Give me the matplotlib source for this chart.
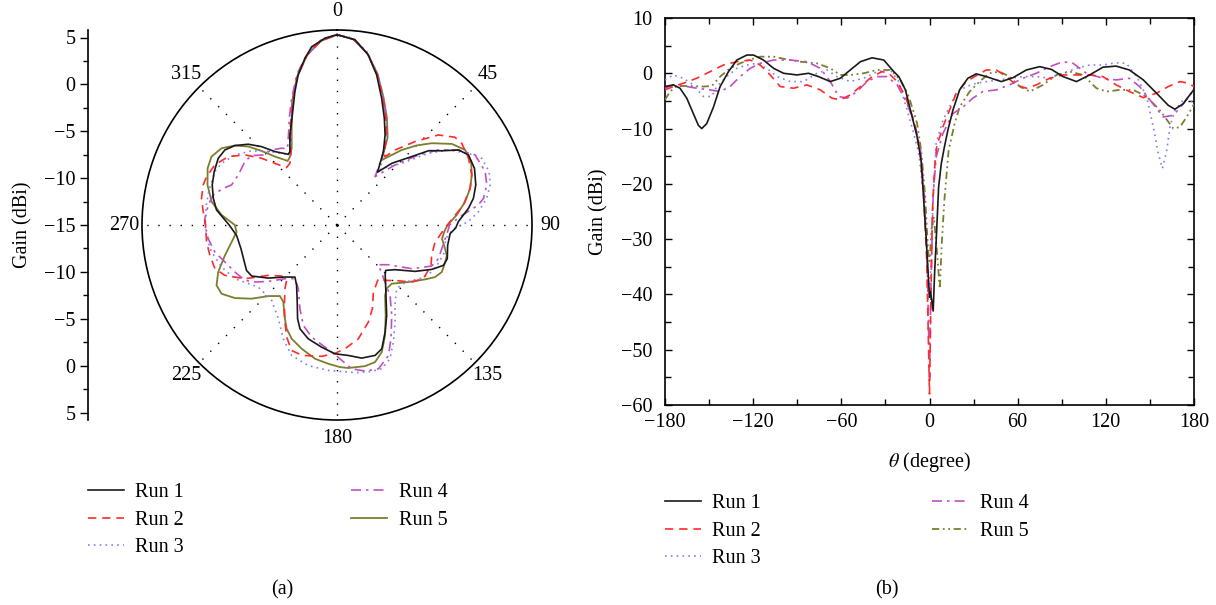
import numpy as np
import matplotlib
matplotlib.use('Agg')
import matplotlib.pyplot as plt
from matplotlib.lines import Line2D

plt.rcParams['font.family'] = ['Liberation Serif', 'DejaVu Serif']
plt.rcParams['mathtext.fontset'] = 'stix'
FS = 14.5

# ---------------- (a) polar pattern data: angle (deg, clockwise from top) and gain (dBi)
pa_th1 = [0, 5.6, 10.4, 14.8, 19.4, 23.9, 28.1, 32.3, 35.5, 37.5, 41.6, 47.5, 51, 54.7, 58.3, 61.9, 67.6, 73.9,
          78.9, 82.8, 88.4, 91.4, 94.4, 100.4, 107, 110.8, 115.1, 120.7, 127.6, 133, 136, 142.6, 151.2, 155.8,
          160.1, 163.7, 169.5, 175, 180.9, 187.2, 194.2, 199.6, 202.8, 207.3, 213.8, 218.9, 225, 232.3, 239.1,
          243.3, 250.2, 256.2, 264.1, 270, 277.1, 282.2, 287.8, 293.5, 299.3, 303.8, 307.9, 312.3, 316.1, 319.8,
          325.4, 327.3, 332.4, 336.3, 342.5, 345.5, 349.1, 351.9, 356.3]
pa_run1 = [5.3, 4.84, 3.45, 1.56, -0.66, -2.54, -4.11, -5.74, -7.2, -7.9, -6.2, -4.2, -2.4, -1.3, 0.23, 0.89, 0.86, 0.41,
           -0.17, -0.87, -2.05, -2.33, -2.9, -3.0, -2.7, -2.86, -3.84, -5.31, -7.19, -7.9, -7.6, -6.44, -4.0, -2.48,
           -0.96, -0.51, -0.56, -1.03, -1.26, -1.87, -2.48, -3.24, -4.15, -5.75, -7.25, -7.86, -7.15, -5.74, -4.4,
           -4.2, -4.4, -4.45, -4.23, -3.5, -2.05, -1.5, -1.02, -0.72, -0.47, -0.61, -1.2, -2.2, -3.4, -4.75,
           -5.84, -5.7, -4.16, -2.95, -0.07, 1.54, 3.1, 4.2, 4.97]

pa_th2 = [0, 5, 10, 15, 20, 25, 30, 33, 35.1, 38, 43.1, 48.4, 53.4, 56.8, 63.1, 69.6, 74.6, 81, 88.3, 91.6, 99.8,
          107.8, 113.2, 121.9, 127.4, 133, 138.1, 142.4, 151.5, 157.1, 162.1, 169.4, 176.3, 181, 186.5, 195, 199.9,
          204.2, 208.2, 213.2, 219.2, 222.3, 227.3, 233.8, 239.7, 245.8, 250.3, 256.6, 262.6, 270, 275.7, 281.1,
          286.7, 290.3, 296.2, 302.2, 307.3, 311.5, 314.8, 318.7, 322.7, 326.7, 332.4, 336, 340, 345, 350, 355]
pa_run2 = [5.3, 4.9, 3.6, 1.6, -0.6, -2.6, -4.4, -5.8, -6.1, -4.8, -2.81, -0.53, 0.69, 0.9, 0.73, 0.34, -0.27, -1.35,
           -2.94, -3.47, -4.38, -4.4, -4.08, -4.15, -4.97, -6.3, -7.06, -7.77, -6.86, -5.3, -4.12, -2.65, -1.77,
           -1.3, -0.9, -0.6, -0.77, -1.9, -3.25, -4.74, -6.22, -7.01, -6.97, -5.91, -3.63, -1.89, -1.17, -1.06,
           -0.97, -0.98, -0.66, -0.27, -0.1, -0.16, -0.48, -1.3, -2.66, -4.26, -5.67, -6.85, -6.72, -6.06, -4.16,
           -2.9, -1.1, 1.4, 3.4, 4.7]

pa_th3 = [0, 5, 10, 15, 20, 25, 30, 34, 38, 41, 46.4, 51.9, 56, 61.4, 65.3, 70.7, 75.3, 79.9, 84.6, 88.5, 92, 97,
          105, 112, 117, 122, 130, 136.9, 143, 149.1, 154.3, 158.4, 162.7, 166.7, 173, 183.4, 191.5, 199.2, 205.3,
          212, 220.9, 231.8, 242.2, 250, 258, 265, 270, 278, 285, 293.6, 298.1, 304.5, 311, 316.9, 322.3, 326.1,
          330, 335, 340, 345, 350, 355]
pa_run3 = [5.3, 5.0, 3.7, 1.7, -0.5, -2.5, -4.4, -6.3, -7.5, -6.8, -5.46, -2.6, -0.67, 0.97, 2.0, 2.2, 1.88, 1.23,
           0.16, -0.98, -2.6, -3.3, -3.2, -3.5, -3.8, -4.33, -5.52, -5.68, -4.7, -2.93, -1.13, 0.35, 1.05, 1.05,
           0.87, 0.54, 0.3, -0.27, -1.58, -3.2, -4.36, -4.3, -2.7, -1.9, -1.3, -1.0, -0.95, -0.9, -0.85, -0.78,
           -1.04, -1.8, -2.94, -4.27, -5.33, -6.0, -5.3, -3.3, -1.0, 1.4, 3.4, 4.8]

pa_th4 = [0, 5, 10, 15, 20, 25, 30, 34, 38.2, 44, 49.3, 53.5, 58.3, 63.1, 70.2, 75, 79.7, 82, 86, 90, 92, 102.7,
          108.4, 113.4, 120.3, 127.7, 133.8, 139.9, 143, 148.8, 154.6, 158.5, 163.9, 169.1, 174.2, 180, 185.6,
          192.7, 198.5, 203.9, 211.3, 218, 224.1, 230.6, 235.2, 239, 245.3, 251.7, 257.5, 263.9, 270, 272.9,
          278.8, 283.6, 287.9, 290.8, 296.9, 304.5, 309.1, 313.5, 318.9, 324.2, 327, 332, 336, 340, 345, 350, 355]
pa_run4 = [5.3, 4.9, 3.6, 1.6, -0.6, -2.6, -4.5, -6.5, -8.44, -6.1, -3.55, -1.54, 0.23, 1.52, 1.8, 1.54, 0.88, 0.2,
           -1.8, -3.0, -3.1, -3.54, -3.6, -3.99, -5.76, -8.07, -8.88, -7.04, -5.6, -3.73, -1.57, -0.04, 0.96, 0.87,
           0.41, -1.0, -1.91, -2.74, -3.7, -5.23, -7.05, -7.73, -7.02, -5.52, -4.34, -3.54, -3.01, -2.41, -1.66,
           -1.19, -0.9, -0.89, -1.1, -1.41, -2.25, -2.97, -3.2, -3.07, -3.26, -4.15, -4.38, -4.9, -5.3, -4.0,
           -2.5, -0.8, 1.6, 3.5, 4.8]

pa_th5 = [0, 5, 10, 15, 20, 25, 30, 34.5, 40.8, 45, 49.2, 54.8, 59.6, 64.7, 69.6, 74.6, 79.7, 85.2, 90, 93, 97.4,
          102.4, 105.5, 108.9, 114.2, 118, 121.7, 128.6, 137, 142, 145.7, 151.7, 156.5, 160.6, 164.5, 168.8, 175.5,
          178.8, 183.6, 189.3, 195.9, 201.7, 205.9, 210.2, 214.9, 218.8, 224, 229.2, 234.4, 239.2, 243.4, 248.4,
          254.8, 260.8, 266, 270, 275, 280.5, 287.2, 293.7, 298.6, 303.6, 307.9, 311.5, 314.5, 317.8, 322.4,
          325.1, 329.4, 335.6, 340, 345, 350, 355]
pa_run5 = [5.3, 4.9, 3.6, 1.7, -0.5, -2.4, -4.2, -6.6, -4.43, -3.0, -1.65, 0.0, 0.84, 0.82, 0.34, -0.27, -1.11,
           -2.18, -3.2, -3.5, -3.7, -3.2, -2.85, -2.8, -2.75, -3.16, -3.96, -5.25, -6.44, -6.4, -5.9, -4.05, -2.15,
           -0.63, 0.18, 0.35, 0.3, 0.16, -0.17, -0.54, -1.27, -1.94, -2.7, -3.84, -5.0, -5.28, -4.46, -2.97, -1.61,
           -0.67, -0.63, -1.37, -2.61, -3.61, -4.26, -4.1, -2.64, -1.4, -0.54, 0.07, 0.25, -0.21, -1.2, -2.37,
           -3.73, -5.15, -6.37, -6.2, -5.5, -3.3, -1.0, 1.4, 3.4, 4.7]

# ---------------- (b) gain vs theta
pb_th1 = [-180, -174.3, -169.8, -165.2, -160.7, -157.3, -155, -151.6, -147, -142.5, -136.8, -131.1, -124.3, -119.8,
          -113, -106.1, -99.3, -90.2, -82.3, -75.5, -67.5, -60.7, -53.9, -47, -39.1, -31.1, -24.3, -20.9, -16.4,
          -11.8, -8.4, -5.7, -4.5, -2.3, -0.6, 0, 0.6, 1.5, 2.5, 3.5, 4.6, 6.2, 8, 10, 12.5, 15.9, 20.5, 26.1,
          31.8, 38.6, 48.9, 56.8, 65.9, 75, 83, 90.9, 100, 109, 118, 127, 136, 145.5, 154.5, 162.5, 167, 172.7, 180]
pb_run1 = [-2.4, -2.1, -2.7, -4.5, -7.3, -9.4, -10, -9.1, -6.1, -2.4, 0.3, 2.4, 3.3, 3.3,
           2.4, 0.9, 0, -0.3, 0, -0.6, -1.5, -0.9, 0.6, 2.1, 2.8, 2.4, 0.3, -0.6, -3.0,
           -7.9, -11.5, -15.8, -20.6, -29.7, -37.6, -40.5, -39.5, -41, -43, -36, -30, -20.6, -16.4, -13.5, -10.3,
           -6.7, -3.0, -0.9, -0.1, -0.6, -1.5, -0.8, 0.6, 1.2, 0.7, -0.6, -1.5, -0.3, 1.1, 1.3, 0.6, -1.2, -3.6,
           -5.8, -6.5, -5.5, -2.9]

pb_th2 = [-180, -174.3, -167.5, -158.4, -149.3, -140.2, -131.1, -122, -115.2, -108.4, -101.6, -92.5, -83.4, -74.3,
          -66.4, -60.7, -53.9, -47, -39.1, -32.3, -27.7, -22, -16.4, -10.7, -6.6, -4, -2, -1, 0, 1, 2, 3.5, 5, 7,
          9.1, 13.6, 18.2, 25, 30.7, 38.6, 45.5, 52.3, 59, 65.9, 72.7, 81.8, 90.9, 100, 109, 118, 127, 136, 145.5,
          154.5, 162.5, 170.5, 176, 180]
pb_run2 = [-3.0, -2.4, -1.8, -0.9, 0.3, 1.5, 2.1, 2.4, 1.5, -0.3, -2.4, -2.7, -2.1, -3.0,
           -4.5, -4.8, -3.9, -2.4, -0.6, 0.3, 0, -1.5, -4.2, -8.5, -13.9, -22, -33, -45, -58, -40, -25, -17, -13,
           -11.5, -9.7, -6.7, -3.6, -1.5, -0.6, 0.6, 0.6, -0.6, -2.1, -2.7, -2.1, -0.9, -0.3, -0.3, -0.3, -0.6,
           -2.1, -3.3, -4.4, -3.6, -2.4, -1.5, -1.8, -2.4]

pb_th3 = [-180, -174.3, -167.5, -160.7, -153.9, -148.2, -144.8, -138, -131.1, -124.3, -117.5, -110.7, -103.9,
          -94.8, -85.7, -76.6, -69.8, -63, -53.9, -44.8, -35.7, -26.6, -20.9, -15.2, -10.7, -7.3, -4, -2, -0.5, 1,
          2.5, 4.5, 9.1, 13.6, 18.2, 25, 31.8, 38.6, 47.7, 54.5, 63.6, 72.7, 81.8, 90.9, 100, 109, 118, 127, 134,
          141, 147.7, 152.3, 155.7, 158.5, 161.4, 163.6, 167, 172.7, 176, 180]
pb_run3 = [-1.2, -0.3, -0.9, -2.1, -4.2, -4.2, -2.4, -0.6, 0.9, 1.5, 1.8, 0.9, -0.6,
           -1.5, -1.5, 0, 0.6, -0.6, -1.5, -0.9, 0.3, 0.6, -1.5, -6.7, -10.9, -14.5, -22, -30, -40, -35,
           -22, -12.7, -8.5, -6.1, -3.6, -2.4, -1.8, -1.5, -1.2, -0.9, -0.6, -0.6, -0.9, 0, 0.9, 1.5, 1.5, 1.9,
           1.8, -0.6, -4.2, -9.7, -14.5, -17.2, -14, -9.7, -6.7, -4.8, -4.5, -5.5]

pb_th4 = [-180, -174.3, -167.5, -158.4, -149.3, -142.5, -135.7, -128.9, -122, -115.2, -106.1, -94.8, -83.4, -74.3,
          -67.5, -61.8, -56.1, -49.3, -42.5, -35.7, -28.9, -22, -15.2, -9.5, -6.1, -3.5, -1.5, 0, 1, 2.5, 4.5, 9.1,
          15.9, 22.7, 29.5, 36.4, 45.5, 54.5, 63.6, 72.7, 81.8, 90.9, 97.7, 106.8, 118, 127, 136, 143, 150, 159,
          166, 172.7, 180]
pb_run4 = [-2.7, -2.1, -2.3, -2.7, -3.0, -3.3, -2.4, -0.6, 0.9, 1.8, 2.4, 2.4, 2.1, 0.9,
           -1.5, -4.2, -4.5, -3.3, -1.5, -0.6, -0.6, -2.1, -5.5, -9.7, -13.9, -22, -35, -55, -38, -22, -15.2,
           -10.9, -7.3, -6.1, -4.5, -3.3, -3.0, -2.1, -0.9, 0, 1.2, 2.1, 1.8, 0, -0.9, -1.2, -0.9, -2.4, -4.8,
           -7.9, -7.6, -5.5, -3.0]

pb_th5 = [-180, -176.6, -172, -163, -153.9, -148.2, -142.5, -135.7, -128.9, -122, -115.2, -106.1, -97, -88, -76.6,
          -67.5, -60.7, -53.9, -44.8, -35.7, -26.6, -19.8, -14.1, -8.4, -5.7, -3, -1, 0, 1.5, 3, 5, 7, 8.5, 10.1,
          13, 17, 20.5, 27.3, 34, 40.9, 47.7, 54.5, 61.4, 68.2, 77.3, 86.4, 95.5, 104.5, 113.6, 120.5, 129.5,
          138.6, 147.7, 156.8, 165.9, 170.5, 175, 180]
pb_run5 = [-4.8, -3.3, -2.3, -2.3, -2.4, -2.3, -0.6, 0.9, 1.8, 2.5, 3.0, 3.0, 2.5, 2.1, 1.8,
           0.9, -0.3, -0.3, 0, 0.6, 0.6, -1.2, -4.2, -9.1, -13.9, -22, -32, -34, -28, -26, -32, -39, -30, -23,
           -14, -9.2, -6.1, -3.3, -1.5, 0, 0.3, -0.6, -2.4, -3.3, -2.1, -0.3, 0.3, -0.3, -2.7, -3.3, -3.0,
           -3.0, -4.2, -6.7, -10, -9.7, -7.9, -5.6]

run_labels = ['Run 1', 'Run 2', 'Run 3', 'Run 4', 'Run 5']
polar_tick_labels = ['0', '45', '90', '135', '180', '225', '270', '315']
radial_tick_labels = ['5', '0', '\u22125', '\u221210', '\u221215', '\u221210', '\u22125', '0', '5']

# styles
colors = ['#1a1a1a', '#ff2b2b', '#8080ee', '#c24ec2', '#7d7d2e']
ls_a = ['-', (0, (5, 3.5)), (0, (1, 2.5)), (0, (6, 3, 1.5, 3)), '-']
ls_b = ['-', (0, (5, 3.5)), (0, (1, 2.5)), (0, (6, 3, 1.5, 3)), (0, (4, 2, 1, 2, 1, 2))]
lws = [1.2, 1.2, 1.2, 1.2, 1.3]

W, H = 1216, 605
fig = plt.figure(figsize=(W / 100, H / 100), dpi=100)
fx = lambda px: px / W
fy = lambda py: 1 - py / H

RMIN, RMAX = -15, 5.8
cx, cy, rad = 337, 225, 195

# ---- polar axes
axp = fig.add_axes([fx(cx - rad), fy(cy + rad), 2 * rad / W, 2 * rad / H], projection='polar')
axp.set_theta_zero_location('N')
axp.set_theta_direction(-1)
pa_th = [pa_th1, pa_th2, pa_th3, pa_th4, pa_th5]
pa_runs = [pa_run1, pa_run2, pa_run3, pa_run4, pa_run5]
for i in range(5):
    th = np.deg2rad(np.r_[pa_th[i], pa_th[i][0] + 360])
    rr = np.r_[pa_runs[i], pa_runs[i][0]]
    axp.plot(th, rr, color=colors[i], ls=ls_a[i], lw=lws[i], zorder=3 + (4 - i) * 0.1)
axp.set_ylim(RMIN, RMAX)
axp.set_yticks([])
axp.set_xticks(np.deg2rad(np.arange(0, 360, 45)))
axp.set_xticklabels(polar_tick_labels, fontsize=FS)
axp.set_xticks(np.deg2rad(np.arange(22.5, 360, 45)), minor=True)
axp.xaxis.grid(True, which='major', color='k', ls=(0, (1, 7)), lw=1.0)
axp.yaxis.grid(False)
axp.tick_params(axis='x', which='major', direction='inout', length=9, width=1.0, pad=1.5)
axp.tick_params(axis='x', which='minor', direction='in', length=5, width=1.0)
axp.spines['polar'].set_linewidth(1.2)

# ---- radial scale on the left
axs = fig.add_axes([fx(88), fy(cy + rad), 0.0005, 2 * rad / H])
span = RMAX - RMIN
axs.set_ylim(-span, span)
axs.set_yticks(np.arange(-20, 21, 5))
axs.set_yticklabels(radial_tick_labels, fontsize=FS)
axs.set_yticks(np.arange(-17.5, 18, 5), minor=True)
axs.set_xticks([])
for s in ['right', 'top', 'bottom']:
    axs.spines[s].set_visible(False)
axs.spines['left'].set_linewidth(1.2)
axs.patch.set_visible(False)
axs.tick_params(axis='y', which='major', direction='out', length=6, width=1.0, pad=3)
axs.tick_params(axis='y', which='minor', direction='out', length=3.5, width=1.0)
axs.set_ylabel('Gain (dBi)', fontsize=FS, labelpad=8)

# ---- cartesian axes
axr = fig.add_axes([fx(665), fy(405), (1194 - 665) / W, (405 - 18) / H])
pb_th = [pb_th1, pb_th2, pb_th3, pb_th4, pb_th5]
pb_runs = [pb_run1, pb_run2, pb_run3, pb_run4, pb_run5]
for i in range(5):
    axr.plot(pb_th[i], pb_runs[i], color=colors[i], ls=ls_b[i], lw=lws[i], zorder=3 + (4 - i) * 0.1)
axr.set_xlim(-180, 180)
axr.set_ylim(-60, 10)
axr.set_xticks(np.arange(-180, 181, 60))
axr.set_xticks(np.arange(-150, 180, 60), minor=True)
axr.set_yticks(np.arange(-60, 11, 10))
axr.set_yticks(np.arange(-55, 10, 10), minor=True)
axr.tick_params(which='both', direction='in', top=True, right=True, labelsize=FS, width=1.0)
axr.tick_params(which='major', length=5)
axr.tick_params(which='minor', length=4)
axr.tick_params(axis='x', which='major', pad=6)
axr.tick_params(axis='y', which='major', pad=9)
for s in axr.spines.values():
    s.set_linewidth(1.2)
axr.set_xlabel(r'$\theta$ (degree)', fontsize=FS, labelpad=13)
axr.set_ylabel('Gain (dBi)', fontsize=FS, labelpad=9)

# ---- legends
h_a = [Line2D([], [], color=colors[i], ls=ls_a[i], lw=lws[i]) for i in range(5)]
h_b = [Line2D([], [], color=colors[i], ls=ls_b[i], lw=lws[i]) for i in range(5)]
leg_kw = dict(ncol=2, frameon=False, fontsize=FS, loc='upper left', borderpad=0, borderaxespad=0,
              handlelength=1.8, handletextpad=0.55, labelspacing=0.42)
fig.legend(h_a, run_labels, bbox_to_anchor=(fx(88), fy(483)), columnspacing=8.3, **leg_kw)
fig.legend(h_b, run_labels, bbox_to_anchor=(fx(665), fy(494)), columnspacing=8.5, **leg_kw)

fig.text(fx(282), fy(590), '(a)', ha='center', va='center', fontsize=FS)
fig.text(fx(887), fy(590), '(b)', ha='center', va='center', fontsize=FS)

fig.savefig('out.png', dpi=100)
